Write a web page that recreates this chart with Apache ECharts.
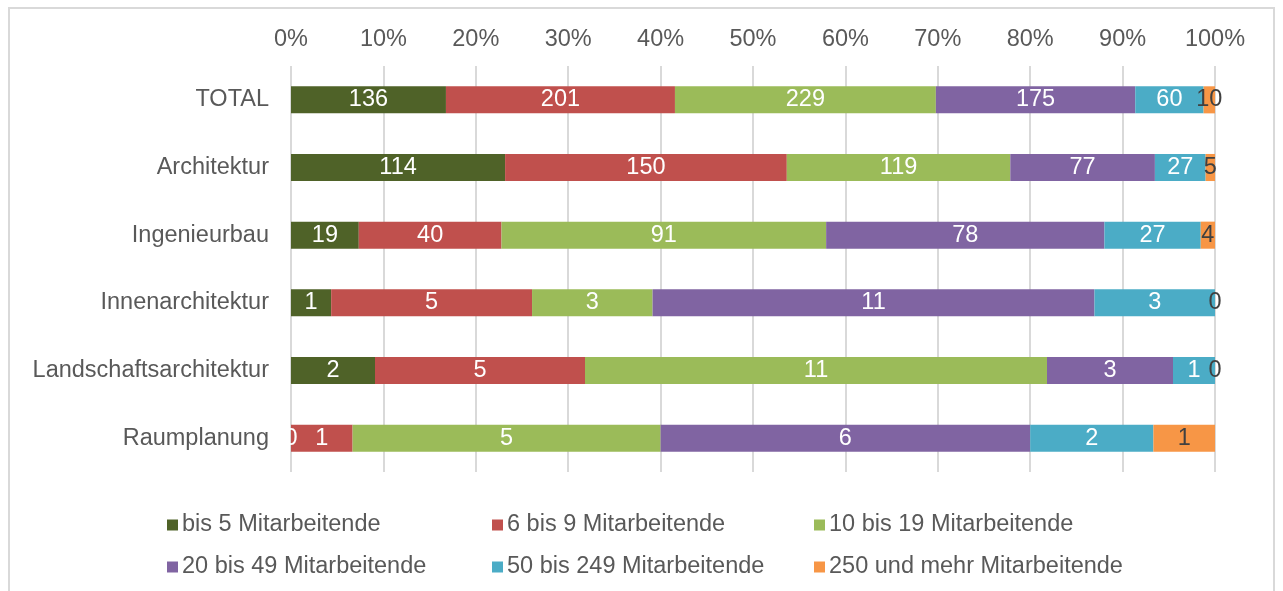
<!DOCTYPE html>
<html>
<head>
<meta charset="utf-8">
<script src="https://cdn.jsdelivr.net/npm/echarts@6/dist/echarts.min.js"></script>
<style>
  html, body { margin: 0; padding: 0; background: #fff; }
  #frame { position: absolute; left: 8px; top: 7px; width: 1267px; height: 600px; border: 2px solid #d9d9d9; box-sizing: border-box; }
  #chart { position: absolute; left: 0; top: 0; width: 1283px; height: 591px; }
</style>
</head>
<body>
<div id="frame"></div>
<div id="chart"></div>
<script>
// categories, top to bottom
const categories = ["TOTAL", "Architektur", "Ingenieurbau", "Innenarchitektur", "Landschaftsarchitektur", "Raumplanung"];
const seriesNames = ["bis 5 Mitarbeitende", "6 bis 9 Mitarbeitende", "10 bis 19 Mitarbeitende",
  "20 bis 49 Mitarbeitende", "50 bis 249 Mitarbeitende", "250 und mehr Mitarbeitende"];
// counts per size class (one value per category)
const bis5 = [136, 114, 19, 1, 2, 0];
const bis9 = [201, 150, 40, 5, 5, 1];
const bis19 = [229, 119, 91, 3, 11, 5];
const bis49 = [175, 77, 78, 11, 3, 6];
const bis249 = [60, 27, 27, 3, 1, 2];
const ab250 = [10, 5, 4, 0, 0, 1];
const tickLabels = ["0%", "10%", "20%", "30%", "40%", "50%", "60%", "70%", "80%", "90%", "100%"];

const colors = ["#4f6228", "#c0504d", "#9bbb59", "#8064a2", "#4bacc6", "#f79646"];
const raw = [bis5, bis9, bis19, bis49, bis249, ab250];
const totals = categories.map((c, i) => raw.reduce((s, arr) => s + arr[i], 0));

const font = "'Liberation Sans', Arial, sans-serif";
const fs = 23.5;

const series = raw.map((arr, k) => ({
  name: seriesNames[k],
  type: "bar",
  stack: "all",
  barWidth: "40%",
  itemStyle: { color: colors[k] },
  data: arr.map((v, i) => v / totals[i] * 100),
  label: {
    show: true,
    position: "inside",
    color: k === 5 ? "#404040" : "#ffffff",
    fontFamily: font,
    fontSize: fs,
    formatter: p => String(arr[p.dataIndex])
  },
  emphasis: { disabled: true }
}));

// legend: 3 columns x 2 rows
const legendX = [162, 487, 809];
const legendY = [508, 550];
const legends = seriesNames.map((n, k) => ({
  data: [n],
  left: legendX[k % 3],
  top: legendY[Math.floor(k / 3)],
  icon: "rect",
  itemWidth: 11,
  itemHeight: 11,
  itemGap: 5,
  textStyle: { color: "#595959", fontFamily: font, fontSize: fs, padding: [0, 0, 0, -1] },
  selectedMode: false
}));

const chart = echarts.init(document.getElementById("chart"));
chart.setOption({
  animation: false,
  color: colors,
  legend: legends,
  grid: { left: 291, right: 68, top: 66, bottom: 119, containLabel: false },
  xAxis: {
    type: "value",
    position: "top",
    min: 0,
    max: 100,
    interval: 10,
    axisLine: { show: false },
    axisTick: { show: false },
    splitLine: { lineStyle: { color: "#d9d9d9", width: 2 } },
    axisLabel: {
      color: "#595959",
      fontFamily: font,
      fontSize: fs,
      margin: 14,
      formatter: v => tickLabels[Math.round(v / 10)]
    }
  },
  yAxis: {
    type: "category",
    inverse: true,
    data: categories,
    axisLine: { show: false },
    axisTick: { show: false },
    axisLabel: { color: "#595959", fontFamily: font, fontSize: fs, margin: 22 }
  },
  series: series
});
</script>
</body>
</html>
